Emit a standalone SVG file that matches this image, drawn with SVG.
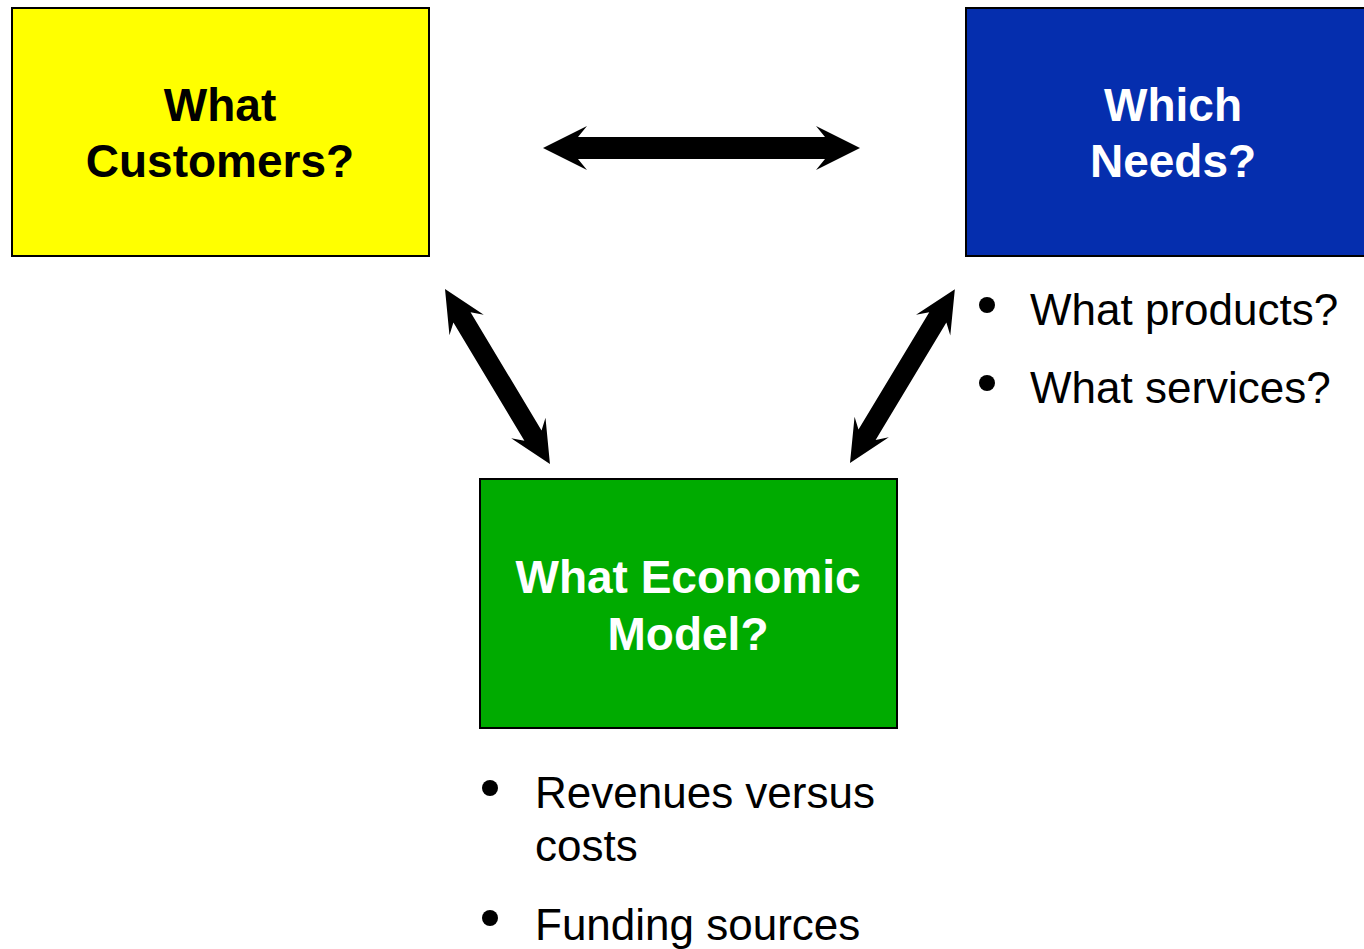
<svg xmlns="http://www.w3.org/2000/svg" width="1364" height="949" viewBox="0 0 1364 949">
<style>
.box{stroke:#000;stroke-width:2}
.title{font-family:"Liberation Sans",Arial,sans-serif;font-weight:bold;font-size:46px;text-anchor:middle}
.item{font-family:"Liberation Sans",Arial,sans-serif;font-size:44px;fill:#000}
.arrow{fill:#000}
</style>
<rect width="1364" height="949" fill="#fff"/>
<g id="customers">
<rect class="box" x="12" y="8" width="417" height="248" fill="#ffff00"/>
<text class="title" x="220" y="121" fill="#000">What</text>
<text class="title" x="220" y="177" fill="#000">Customers?</text>
</g>
<g id="needs">
<rect class="box" x="966" y="8" width="417" height="248" fill="#052eae"/>
<text class="title" x="1173" y="121" fill="#fff">Which</text>
<text class="title" x="1173" y="177" fill="#fff">Needs?</text>
<circle cx="987" cy="305" r="8" fill="#000"/>
<text class="item" x="1030" y="325">What products?</text>
<circle cx="987" cy="383" r="8" fill="#000"/>
<text class="item" x="1030" y="403">What services?</text>
</g>
<g id="model">
<rect class="box" x="480" y="479" width="417" height="249" fill="#00ab00"/>
<text class="title" x="688" y="593" fill="#fff">What Economic</text>
<text class="title" x="688" y="650" fill="#fff">Model?</text>
<circle cx="490" cy="788" r="8" fill="#000"/>
<text class="item" x="535" y="808">Revenues versus</text>
<text class="item" x="535" y="861">costs</text>
<circle cx="490" cy="918" r="8" fill="#000"/>
<text class="item" x="535" y="940">Funding sources</text>
</g>
<g id="connectors">
<path class="arrow" transform="translate(543,148)" d="M0,0 L44,-22 L35,-11 L282,-11 L273,-22 L317,0 L273,22 L282,11 L35,11 L44,22 Z"/>
<path class="arrow" transform="translate(445,289) rotate(59.04)" d="M0,0 L42,-20 L33,-10 L171,-10 L162,-20 L204,0 L162,20 L171,10 L33,10 L42,20 Z"/>
<path class="arrow" transform="translate(850,463) rotate(-58.9)" d="M0,0 L42,-20 L33,-10 L170,-10 L161,-20 L203,0 L161,20 L170,10 L33,10 L42,20 Z"/>
</g>
</svg>
